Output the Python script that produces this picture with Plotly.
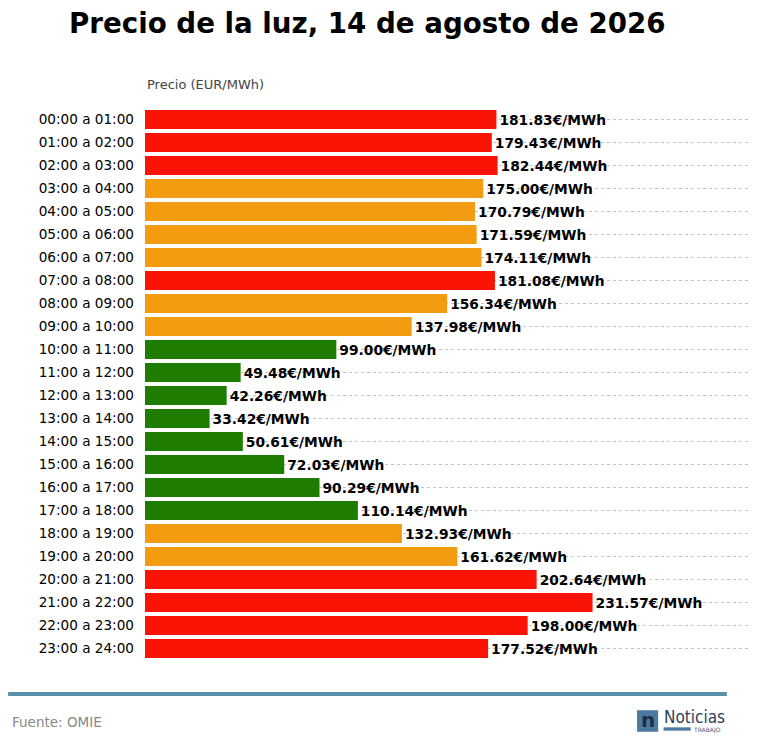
import plotly.graph_objects as go

hours = [f"{h:02d}:00 a {h+1:02d}:00" for h in range(24)]
prices = [181.83,179.43,182.44,175.00,170.79,171.59,174.11,181.08,156.34,137.98,99.00,49.48,42.26,33.42,50.61,72.03,90.29,110.14,132.93,161.62,202.64,231.57,198.00,177.52]
levels = ["r","r","r","o","o","o","o","r","o","o","g","g","g","g","g","g","g","g","o","o","r","r","r","r"]
cmap = {"r":"#f91405","o":"#f39c12","g":"#1e7d00"}

fig = go.Figure(go.Bar(
    x=prices, y=hours, orientation="h",
    marker=dict(color=[cmap[l] for l in levels], line=dict(width=0)),
    text=[f"<b>{p:.2f}€/MWh</b>" for p in prices], textposition="outside",
    textfont=dict(size=13.8, color="black", family="DejaVu Sans"), cliponaxis=False))

fig.update_layout(
    width=750, height=747, plot_bgcolor="white", paper_bgcolor="white",
    margin=dict(l=137, r=10, t=100, b=95), bargap=0.17, showlegend=False,
    font=dict(family="DejaVu Sans", size=13, color="black"),
    title=dict(text="<b>Precio de la luz, 14 de agosto de 2026</b>", x=0.479, xanchor="center",
               y=0.979, yanchor="middle", font=dict(size=27.7, color="black")),
    xaxis=dict(range=[0, 312], visible=False, automargin=False),
    yaxis=dict(autorange="reversed", showgrid=True, gridcolor="#c4c4c4", griddash="dot",
               ticks="", ticklabelstandoff=10, tickfont=dict(size=13.6), automargin=False),
    shapes=[dict(type="line", xref="paper", yref="paper", x0=-0.227, x1=0.965, y0=-0.0616, y1=-0.0616,
                 line=dict(color="#5b8fa8", width=4)),
            dict(type="rect", xref="paper", yref="paper", x0=0.816, x1=0.851, y0=-0.130, y1=-0.091,
                 fillcolor="#4b7aa0", line=dict(width=0)),
            dict(type="rect", xref="paper", yref="paper", x0=0.86, x1=0.905, y0=-0.128, y1=-0.122,
                 fillcolor="#4b7aa0", line=dict(width=0))],
    annotations=[
        dict(text="Precio (EUR/MWh)", xref="paper", yref="paper", x=0, y=1.026, xanchor="left",
             yanchor="bottom", showarrow=False, font=dict(size=13, color="#444")),
        dict(text="Fuente: OMIE", xref="paper", yref="paper", x=-0.224, y=-0.112, xanchor="left",
             yanchor="middle", showarrow=False, font=dict(size=13.5, color="#888")),
        dict(text="<b>n</b>", xref="paper", yref="paper", x=0.8335, xanchor="center", y=-0.108,
             yanchor="middle", showarrow=False, font=dict(size=20, color="#1f2f45")),
        dict(text="Noticias", xref="paper", yref="paper", x=0.857, y=-0.103, xanchor="left", yanchor="middle",
             showarrow=False, font=dict(size=17, color="#2e3f5a", family="DejaVu Sans Condensed")),
        dict(text="TRABAJO", xref="paper", yref="paper", x=0.905, y=-0.126, xanchor="left", yanchor="middle",
             showarrow=False, font=dict(size=6, color="#3a5a80")),
    ])
fig.write_html("out.html")
